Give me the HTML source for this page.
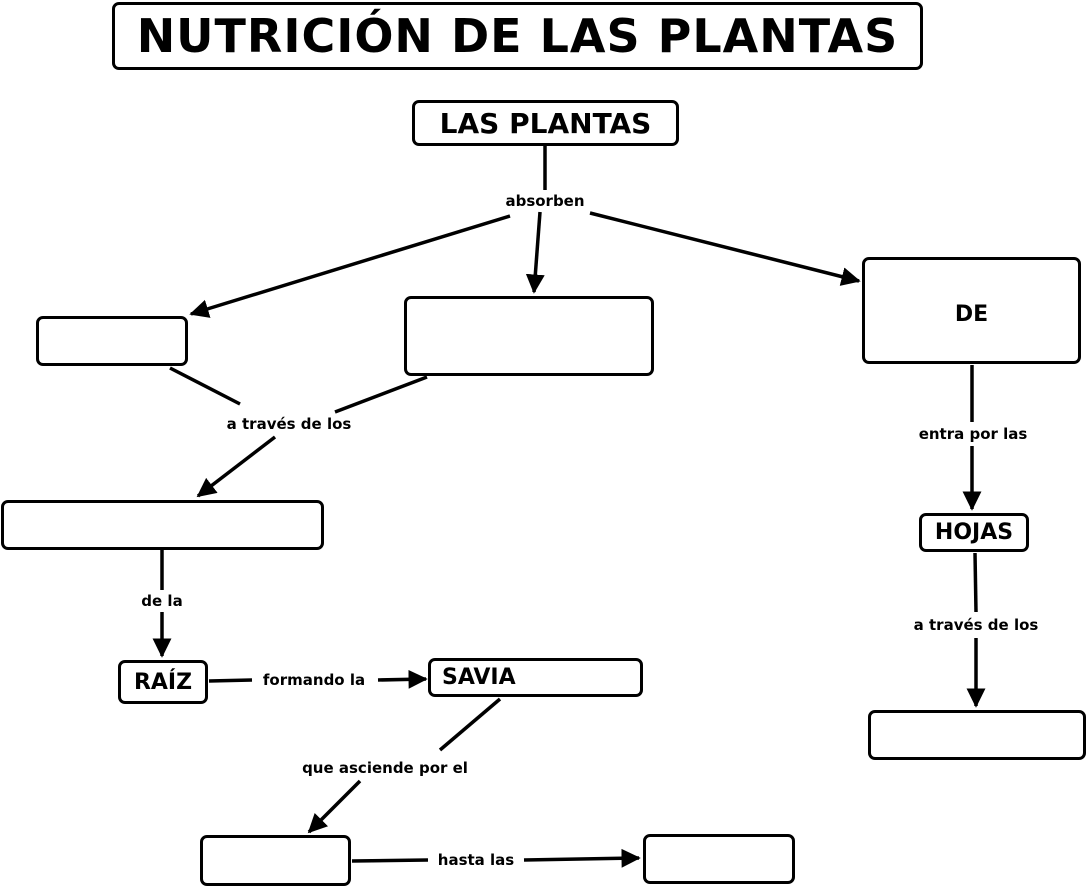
<!DOCTYPE html>
<html><head><meta charset="utf-8"><style>
body{margin:0;width:1088px;height:888px;background:#fff;overflow:hidden;position:relative;font-family:"DejaVu Sans","Liberation Sans",sans-serif;font-weight:bold;color:#000}
.b{position:absolute;border:3px solid #000;border-radius:7px;box-sizing:border-box;background:#fff;display:flex;align-items:center;justify-content:center}
.l{position:absolute;font-size:15px;white-space:nowrap;transform:translate(-50%,-50%);background:#fff;line-height:16px}
svg{position:absolute;left:0;top:0}
</style></head><body>
<svg width="1088" height="888">
<defs><marker id="a" markerWidth="6" markerHeight="6" refX="5" refY="3" orient="auto" markerUnits="strokeWidth"><path d="M0,0.3 L5.5,3 L0,5.7 Z" fill="#000"/></marker></defs>
<g stroke="#000" stroke-width="3.5" fill="none">
<line x1="545" y1="145" x2="545" y2="190"/>
<line x1="540" y1="212" x2="534" y2="292" marker-end="url(#a)"/>
<line x1="510" y1="216" x2="191" y2="314" marker-end="url(#a)"/>
<line x1="590" y1="213" x2="859" y2="281" marker-end="url(#a)"/>
<line x1="170" y1="368" x2="240" y2="404"/>
<line x1="427" y1="377" x2="335" y2="412"/>
<line x1="275" y1="437" x2="198" y2="496" marker-end="url(#a)"/>
<line x1="162" y1="549" x2="162" y2="590"/>
<line x1="162" y1="612" x2="162" y2="656" marker-end="url(#a)"/>
<line x1="209" y1="681" x2="252" y2="680"/>
<line x1="378" y1="680" x2="426" y2="679" marker-end="url(#a)"/>
<line x1="500" y1="699" x2="440" y2="750"/>
<line x1="360" y1="781" x2="309" y2="832" marker-end="url(#a)"/>
<line x1="352" y1="861" x2="428" y2="860"/>
<line x1="524" y1="860" x2="639" y2="858" marker-end="url(#a)"/>
<line x1="972" y1="365" x2="972" y2="422"/>
<line x1="972" y1="446" x2="972" y2="509" marker-end="url(#a)"/>
<line x1="975" y1="553" x2="976" y2="612"/>
<line x1="976" y1="638" x2="976" y2="706" marker-end="url(#a)"/>
</g></svg>
<div class="b" style="left:112px;top:2px;width:811px;height:68px;font-size:46px;letter-spacing:1px">NUTRICIÓN DE LAS PLANTAS</div>
<div class="b" style="left:412px;top:100px;width:267px;height:46px;font-size:28px">LAS PLANTAS</div>
<div class="b" style="left:36px;top:316px;width:152px;height:50px"></div>
<div class="b" style="left:404px;top:296px;width:250px;height:80px"></div>
<div class="b" style="left:862px;top:257px;width:219px;height:107px;align-items:flex-start;padding-top:42px;font-size:22px">DE</div>
<div class="b" style="left:1px;top:500px;width:323px;height:50px"></div>
<div class="b" style="left:919px;top:513px;width:110px;height:39px;font-size:22px">HOJAS</div>
<div class="b" style="left:118px;top:660px;width:90px;height:44px;font-size:22px">RAÍZ</div>
<div class="b" style="left:428px;top:658px;width:215px;height:39px;font-size:22px;justify-content:flex-start;padding-left:11px">SAVIA</div>
<div class="b" style="left:868px;top:710px;width:218px;height:50px"></div>
<div class="b" style="left:200px;top:835px;width:151px;height:51px"></div>
<div class="b" style="left:643px;top:834px;width:152px;height:50px"></div>
<div class="l" style="left:545px;top:201px">absorben</div>
<div class="l" style="left:289px;top:424px">a través de los</div>
<div class="l" style="left:162px;top:601px">de la</div>
<div class="l" style="left:314px;top:680px">formando la</div>
<div class="l" style="left:385px;top:768px">que asciende por el</div>
<div class="l" style="left:476px;top:860px">hasta las</div>
<div class="l" style="left:973px;top:434px">entra por las</div>
<div class="l" style="left:976px;top:625px">a través de los</div>
</body></html>
